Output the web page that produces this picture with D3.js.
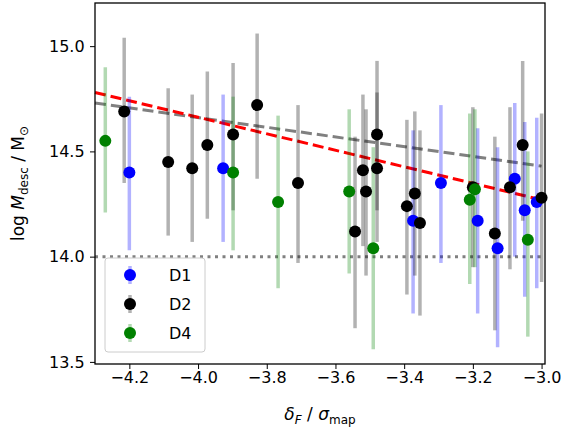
<!DOCTYPE html>
<html><head><meta charset="utf-8">
<script src="https://cdn.jsdelivr.net/npm/d3@7"></script>
<style>body{margin:0;background:#fff}text{font-family:"DejaVu Sans",sans-serif}</style>
</head><body>
<script>
// [x, y, lo, hi]
const d1 = [
  [-4.200, 14.40, 14.03, 14.76], [-3.927, 14.42, 14.07, 14.77], [-3.374, 14.17, 13.73, 14.60],
  [-3.293, 14.35, 13.97, 14.72], [-3.186, 14.17, 13.73, 14.61], [-3.128, 14.04, 13.57, 14.52],
  [-3.078, 14.37, 14.00, 14.73], [-3.049, 14.22, 13.81, 14.64], [-3.014, 14.26, 13.85, 14.66]
];
const d2 = [
  [-4.215, 14.69, 14.35, 15.04], [-4.087, 14.45, 14.10, 14.80], [-4.017, 14.42, 14.07, 14.77],
  [-3.973, 14.53, 14.18, 14.88], [-3.898, 14.58, 14.22, 14.92], [-3.828, 14.72, 14.37, 15.06],
  [-3.709, 14.35, 13.97, 14.72], [-3.543, 14.12, 13.66, 14.57], [-3.520, 14.41, 14.05, 14.77],
  [-3.511, 14.31, 13.91, 14.70], [-3.479, 14.58, 14.22, 14.93], [-3.479, 14.42, 14.07, 14.78],
  [-3.392, 14.24, 13.82, 14.65], [-3.369, 14.30, 13.91, 14.69], [-3.354, 14.16, 13.72, 14.60],
  [-3.200, 14.33, 13.95, 14.71], [-3.136, 14.11, 13.65, 14.57], [-3.092, 14.33, 13.94, 14.71],
  [-3.055, 14.53, 14.17, 14.93], [-3.000, 14.28, 13.88, 14.68]
];
const d4 = [
  [-4.270, 14.55, 14.21, 14.90], [-3.898, 14.40, 14.03, 14.76], [-3.767, 14.26, 13.85, 14.67],
  [-3.560, 14.31, 13.92, 14.70], [-3.490, 14.04, 13.56, 14.52], [-3.209, 14.27, 13.87, 14.68],
  [-3.194, 14.32, 13.95, 14.70], [-3.040, 14.08, 13.62, 14.50]
];
const redFit = [[-4.3, 14.78], [-3.0, 14.27]];
const grayFit = [[-4.3, 14.73], [-3.0, 14.43]];
const threshold = 14.0;
const xTicks = [-4.2, -4.0, -3.8, -3.6, -3.4, -3.2, -3.0];
const yTicks = [13.5, 14.0, 14.5, 15.0];

const W = 570, H = 433, L = 95, R = 545, T = 3, B = 364;
const svg = d3.select("body").append("svg").attr("width", W).attr("height", H);
const x = d3.scaleLinear().domain([-4.3, -2.99]).range([L, R]);
const y = d3.scaleLinear().domain([13.49, 15.205]).range([B, T]);

const g = svg.append("g");
g.append("line").attr("x1", L).attr("x2", R).attr("y1", y(threshold)).attr("y2", y(threshold))
  .attr("stroke", "#808080").attr("stroke-width", 3).attr("stroke-dasharray", "3,4.5");
const line = d3.line().x(d => x(d[0])).y(d => y(d[1]));
g.append("path").attr("d", line(grayFit)).attr("fill", "none").attr("stroke", "#808080")
  .attr("stroke-width", 3).attr("stroke-dasharray", "11,5");
g.append("path").attr("d", line(redFit)).attr("fill", "none").attr("stroke", "#ff0000")
  .attr("stroke-width", 3).attr("stroke-dasharray", "11,5");

const series = [[d1, "#0000ff", "D1"], [d2, "#000000", "D2"], [d4, "#008000", "D4"]];
series.forEach(([d, c]) => {
  g.selectAll(null).data(d).enter().append("line")
    .attr("x1", p => x(p[0])).attr("x2", p => x(p[0]))
    .attr("y1", p => y(p[2])).attr("y2", p => y(p[3]))
    .attr("stroke", c).attr("stroke-opacity", c === "#000000" ? 0.3 : 0.3).attr("stroke-width", 3.5);
});
series.forEach(([d, c]) => {
  g.selectAll(null).data(d).enter().append("circle")
    .attr("cx", p => x(p[0])).attr("cy", p => y(p[1])).attr("r", 6).attr("fill", c);
});

// frame and axes
svg.append("rect").attr("x", L).attr("y", T).attr("width", R - L).attr("height", B - T)
  .attr("fill", "none").attr("stroke", "#000").attr("stroke-width", 1.3);
const xa = svg.append("g").attr("transform", `translate(0,${B})`)
  .call(d3.axisBottom(x).tickValues(xTicks).tickFormat(d3.format(".1f")).tickSizeOuter(0).tickSize(5));
const ya = svg.append("g").attr("transform", `translate(${L},0)`)
  .call(d3.axisLeft(y).tickValues(yTicks).tickFormat(d3.format(".1f")).tickSizeOuter(0).tickSize(5));
[xa, ya].forEach(a => { a.select(".domain").remove(); a.selectAll("text").attr("font-size", 16).attr("fill", "#000"); });
xa.selectAll("text").text(d => d3.format(".1f")(d).replace("-", "\u2212"));
ya.selectAll("text").attr("dx", "-0.15em");

svg.append("text").attr("x", (L + R) / 2).attr("y", 420).attr("text-anchor", "middle").attr("font-size", 17)
  .html('<tspan font-style="italic">δ</tspan><tspan font-style="italic" font-size="12" dy="4">F</tspan><tspan dy="-4"> / </tspan><tspan font-style="italic">σ</tspan><tspan font-size="12" dy="4">map</tspan>');
svg.append("text").attr("transform", `translate(24,${(T + B) / 2}) rotate(-90)`).attr("text-anchor", "middle").attr("font-size", 17)
  .html('log <tspan font-style="italic">M</tspan><tspan font-size="12" dy="4">desc</tspan><tspan dy="-4"> / M</tspan><tspan font-size="12" dy="4">⊙</tspan>');

// legend
const lg = svg.append("g").attr("transform", "translate(105,258)");
lg.append("rect").attr("width", 100).attr("height", 94).attr("rx", 3).attr("fill", "#fff")
  .attr("fill-opacity", 0.8).attr("stroke", "#ccc");
series.forEach(([d, c, name], i) => {
  const yy = 17 + i * 29;
  lg.append("line").attr("x1", 25).attr("x2", 25).attr("y1", yy - 9).attr("y2", yy + 9)
    .attr("stroke", c).attr("stroke-opacity", 0.3).attr("stroke-width", 3.5);
  lg.append("circle").attr("cx", 25).attr("cy", yy).attr("r", 6).attr("fill", c);
  lg.append("text").attr("x", 64).attr("y", yy + 6).attr("font-size", 16).text(name);
});
</script>
</body></html>
